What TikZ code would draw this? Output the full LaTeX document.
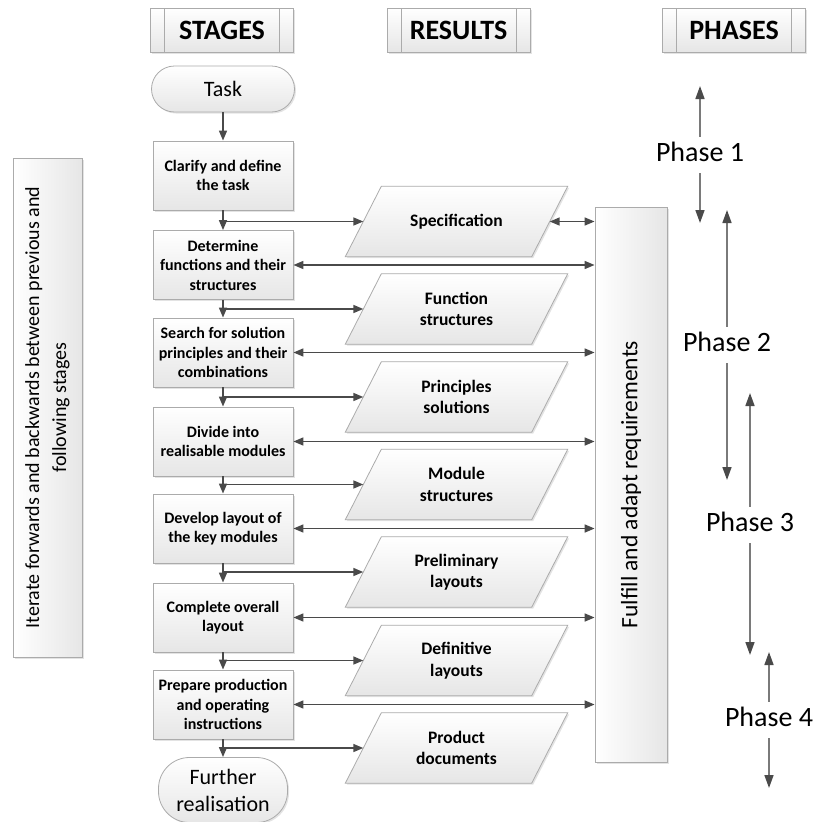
\documentclass[tikz,border=0pt]{standalone}
\usepackage{fontspec}
\usepackage{graphicx}
\setmainfont{Carlito}
\usetikzlibrary{arrows.meta,shadows,backgrounds}
\definecolor{arrowc}{HTML}{4A4A4A}
\definecolor{edgec}{HTML}{ABABAB}
\definecolor{shadec}{HTML}{E6E6E6}
\definecolor{phasel}{HTML}{7A7A7A}
\begin{document}
\begin{tikzpicture}[x=1pt,y=-1pt,
  boxbase/.style={draw=edgec,line width=0.8pt,top color=white,bottom color=shadec,
    drop shadow={shadow xshift=1.5pt,shadow yshift=-1.5pt,opacity=0.22}},
  sidebox/.style={draw=edgec,line width=0.8pt,left color=white,right color=shadec,
    drop shadow={shadow xshift=1.5pt,shadow yshift=-1.5pt,opacity=0.22},inner sep=0pt},
  hdr/.style={boxbase,minimum width=143pt,minimum height=44pt,inner sep=0pt,
    font=\fontsize{28}{32}\selectfont\bfseries,
    path picture={\draw[edgec,line width=0.8pt]
      ([xshift=14pt]path picture bounding box.south west) -- ([xshift=14pt]path picture bounding box.north west)
      ([xshift=-14pt]path picture bounding box.south east) -- ([xshift=-14pt]path picture bounding box.north east);}},
  stagebox/.style={boxbase,minimum width=140pt,minimum height=69pt,inner sep=1pt,align=center,
    font=\fontsize{16}{19.5}\selectfont\bfseries},
  termbox/.style={boxbase,inner sep=0pt,align=center,font=\fontsize{22}{27}\selectfont},
  resnode/.style={minimum width=186pt,minimum height=70pt,inner sep=0pt,align=center,
    font=\fontsize{17.5}{21.5}\selectfont\bfseries},
  arr/.style={draw=arrowc,line width=1.6pt,-{Triangle[length=10pt,width=8pt]}},
  darr/.style={draw=arrowc,line width=1.6pt,{Triangle[length=10pt,width=8pt]}-{Triangle[length=10pt,width=8pt]}},
  phasenode/.style={inner sep=0pt,minimum height=36pt,text height=19pt,text depth=6pt,
    font=\fontsize{28}{32}\selectfont},
  parr/.style={draw=phasel,line width=1.6pt,-{Triangle[length=13pt,width=9pt,color=arrowc]}}
]
\useasboundingbox (0,0) rectangle (817,822);

% headers
\node[hdr] (hstages) at (222,30) {STAGES};
\node[hdr] (hresults) at (458.5,30) {RESULTS};
\node[hdr] (hphases) at (734,30) {PHASES};

% terminals
\node[termbox,rounded corners=23pt,minimum width=143pt,minimum height=46pt] (task) at (223,89) {Task};
\node[termbox,rounded corners=31pt,minimum width=129pt,minimum height=65pt] (further) at (223,790) {Further\\realisation};

% stages
\node[stagebox] (clar) at (223,175.5) {Clarify and define\\the task};
\node[stagebox] (det) at (223,265) {Determine\\functions and their\\structures};
\node[stagebox] (search) at (223,352.5) {Search for solution\\principles and their\\combinations};
\node[stagebox] (divide) at (223,441.5) {Divide into\\realisable modules};
\node[stagebox] (develop) at (223,528.5) {Develop layout of\\the key modules};
\node[stagebox] (complete) at (223,617.5) {Complete overall\\layout};
\node[stagebox] (prepare) at (223,704.5) {Prepare production\\and operating\\instructions};

% results (text nodes; parallelograms drawn on background)
\node[resnode] (spec) at (456.5,221.5) {Specification};
\node[resnode] (funcs) at (456.5,309) {Function\\structures};
\node[resnode] (princ) at (456.5,397) {Principles\\solutions};
\node[resnode] (mods) at (456.5,484.5) {Module\\structures};
\node[resnode] (prelim) at (456.5,572) {Preliminary\\layouts};
\node[resnode] (defin) at (456.5,660.5) {Definitive\\layouts};
\node[resnode] (prod) at (456.5,748) {Product\\documents};

\begin{scope}[on background layer]
\foreach \n in {spec,funcs,princ,mods,prelim,defin,prod}{
  \shade[boxbase] ([xshift=-18pt]\n.south west) -- ([xshift=-18pt]\n.south east)
    -- ([xshift=18pt]\n.north east) -- ([xshift=18pt]\n.north west) -- cycle;
}
\end{scope}

% side boxes
\node[sidebox,minimum width=72pt,minimum height=555pt] (req) at (631,484.5)
  {\rotatebox{90}{\fontsize{23.5}{28}\selectfont Fulfill and adapt requirements}};
\node[sidebox,minimum width=69pt,minimum height=499pt] (iter) at (47.5,407.5)
  {\rotatebox{90}{\parbox{480pt}{\centering\fontsize{20}{27}\selectfont Iterate forwards and backwards between previous and\\following stages}}};

% stage chain
\draw[arr] (task.south) -- (clar.north);
\draw[arr] (clar.south) -- (det.north);
\draw[arr] (det.south) -- (search.north);
\draw[arr] (search.south) -- (divide.north);
\draw[arr] (divide.south) -- (develop.north);
\draw[arr] (develop.south) -- (complete.north);
\draw[arr] (complete.south) -- (prepare.north);
\draw[arr] (prepare.south) -- (further.north);

% branches to results
\draw[arr] (clar.south |- spec.west) -- (spec.west);
\draw[arr] (det.south |- funcs.west) -- (funcs.west);
\draw[arr] (search.south |- princ.west) -- (princ.west);
\draw[arr] (divide.south |- mods.west) -- (mods.west);
\draw[arr] (develop.south |- prelim.west) -- (prelim.west);
\draw[arr] (complete.south |- defin.west) -- (defin.west);
\draw[arr] (prepare.south |- prod.west) -- (prod.west);

% double arrows to requirements
\draw[darr] (spec.east) -- (spec.east -| req.west);
\foreach \n in {det,search,divide,develop,complete,prepare}{
  \draw[darr] (\n.east) -- (\n.east -| req.west);
}

% phases
\node[phasenode] (ph1) at (700,155) {Phase 1};
\node[phasenode] (ph2) at (727,345) {Phase 2};
\node[phasenode] (ph3) at (750,525) {Phase 3};
\node[phasenode] (ph4) at (769,720) {Phase 4};
\coordinate (p1u) at (700,86);  \coordinate (p1d) at (700,223);
\coordinate (p2u) at (727,210); \coordinate (p2d) at (727,480);
\coordinate (p3u) at (750,393); \coordinate (p3d) at (750,655);
\coordinate (p4u) at (769,652); \coordinate (p4d) at (769,788);
\draw[parr] (ph1.north) -- (p1u);
\draw[parr] (ph1.south) -- (p1d);
\draw[parr] (ph2.north) -- (p2u);
\draw[parr] (ph2.south) -- (p2d);
\draw[parr] (ph3.north) -- (p3u);
\draw[parr] (ph3.south) -- (p3d);
\draw[parr] (ph4.north) -- (p4u);
\draw[parr] (ph4.south) -- (p4d);
\end{tikzpicture}
\end{document}
